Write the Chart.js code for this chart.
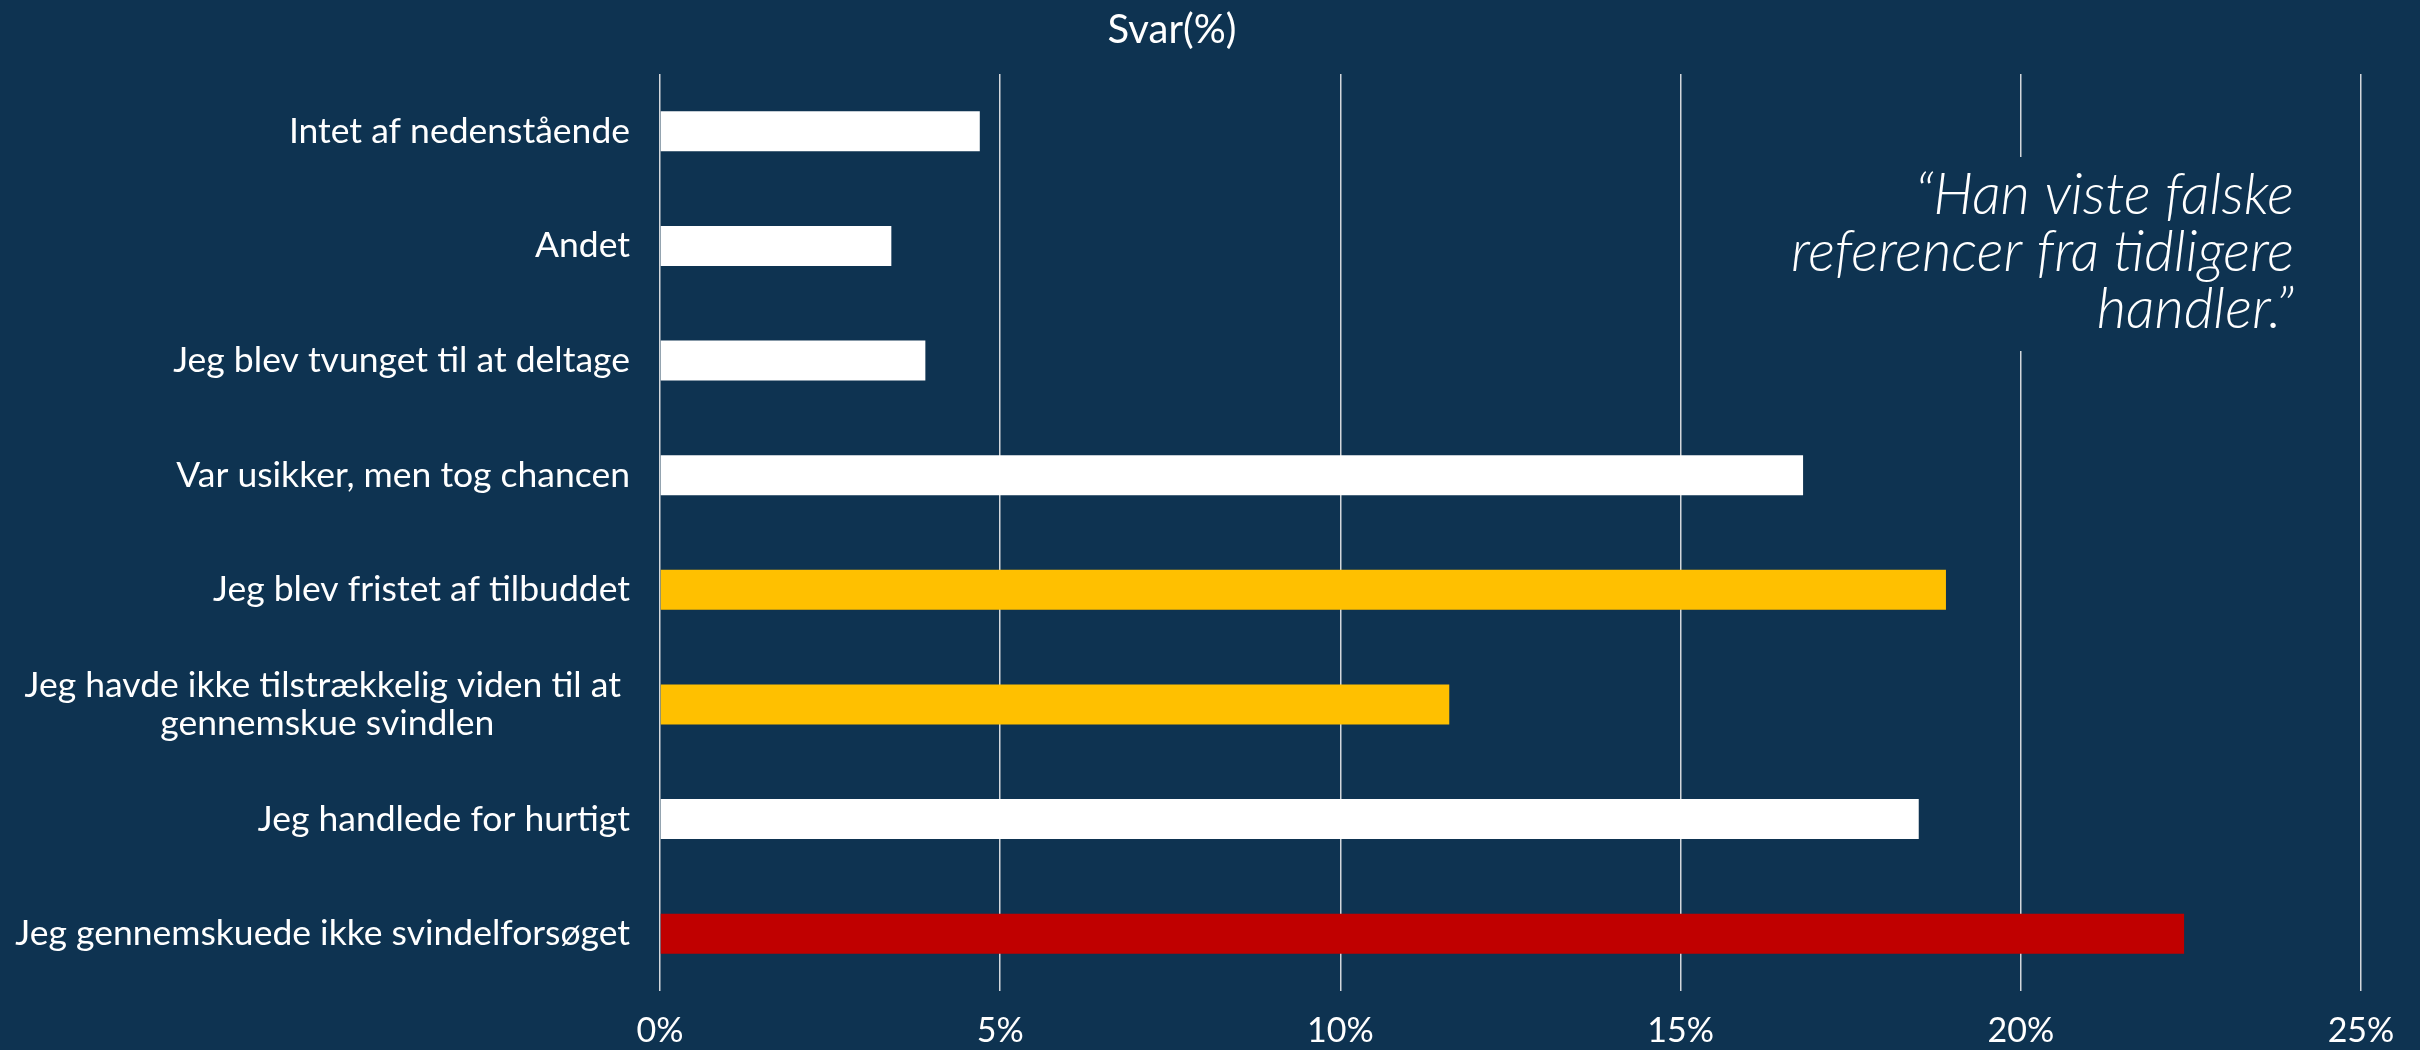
<!DOCTYPE html>
<html>
<head>
<meta charset="utf-8">
<script src="https://cdn.jsdelivr.net/npm/chart.js@4.4.1/dist/chart.umd.min.js"></script>
<style>
  html, body { margin: 0; padding: 0; background: #0e3351; }
  #wrap { width: 2420px; height: 1050px; }
</style>
</head>
<body>
<div id="wrap"><canvas id="svarChart" width="2420" height="1050"></canvas></div>
<script>
// Data (top to bottom)
const categories = [
  ["Intet af nedenstående"],
  ["Andet"],
  ["Jeg blev tvunget til at deltage"],
  ["Var usikker, men tog chancen"],
  ["Jeg blev fristet af tilbuddet"],
  ["Jeg havde ikke tilstrækkelig viden til at ", "gennemskue svindlen"],
  ["Jeg handlede for hurtigt"],
  ["Jeg gennemskuede ikke svindelforsøget"]
];
const values = [4.7, 3.4, 3.9, 16.8, 18.9, 11.6, 18.5, 22.4];
const barColors = ["#ffffff", "#ffffff", "#ffffff", "#ffffff", "#ffc000", "#ffc000", "#ffffff", "#c00000"];
const xTicks = [0, 5, 10, 15, 20, 25];
const chartTitle = "Svar(%)";
const quoteLines = ["\u201cHan viste falske", "referencer fra tidligere", "handler.\u201d"];

const BG = "#0e3351";
const FONT = "Lato, 'Open Sans', sans-serif";

// Title, quote box and the centred multi-line category labels
const decorations = {
  id: "decorations",
  afterDraw(chart) {
    const ctx = chart.ctx;
    const area = chart.chartArea;
    const yScale = chart.scales.y;
    ctx.save();
    ctx.fillStyle = "#ffffff";

    // title
    ctx.font = "40px " + FONT;
    ctx.textAlign = "center";
    ctx.textBaseline = "middle";
    ctx.fillText(chartTitle, 1172, 30);

    // category labels: lines centred on each other, block right aligned
    ctx.font = "35.5px " + FONT;
    const lineH = 38.5;
    categories.forEach((lines, i) => {
      const y = yScale.getPixelForTick(i);
      const widths = lines.map(l => ctx.measureText(l).width);
      const boxW = Math.max(...widths);
      const cx = area.left - 30 - boxW / 2;
      lines.forEach((l, j) => {
        ctx.fillText(l, cx, y + (j - (lines.length - 1) / 2) * lineH);
      });
    });

    // quote box over the grid
    ctx.fillStyle = BG;
    ctx.fillRect(1740, 157, 585, 194);
    ctx.fillStyle = "#ffffff";
    ctx.font = "italic 300 57px " + FONT;
    ctx.textAlign = "right";
    ctx.textBaseline = "alphabetic";
    quoteLines.forEach((l, j) => ctx.fillText(l, 2294, 214 + j * 57));
    ctx.restore();
  }
};

const ctx = document.getElementById("svarChart").getContext("2d");
const svarChart = new Chart(ctx, {
  type: "bar",
  data: {
    labels: categories,
    datasets: [{
      data: values,
      backgroundColor: barColors,
      borderWidth: 0,
      categoryPercentage: 1,
      barPercentage: 0.35
    }]
  },
  options: {
    indexAxis: "y",
    responsive: false,
    animation: false,
    layout: { padding: { top: 74, right: 59, bottom: 0, left: 0 } },
    plugins: {
      legend: { display: false },
      title: { display: false },
      tooltip: { enabled: false }
    },
    scales: {
      x: {
        min: 0,
        max: 25,
        afterBuildTicks: scale => { scale.ticks = xTicks.map(v => ({ value: v })); },
        afterFit: scale => { scale.height = 59; },
        border: { display: false },
        grid: { color: "#d3d7db", lineWidth: 1.5, drawTicks: false },
        ticks: {
          color: "#ffffff",
          padding: 20,
          font: { family: FONT, size: 34 },
          callback: v => v + "%"
        }
      },
      y: {
        afterFit: scale => { scale.width = 660; },
        border: { display: false },
        grid: { display: false },
        ticks: { display: false }
      }
    }
  },
  plugins: [decorations]
});
</script>
</body>
</html>
